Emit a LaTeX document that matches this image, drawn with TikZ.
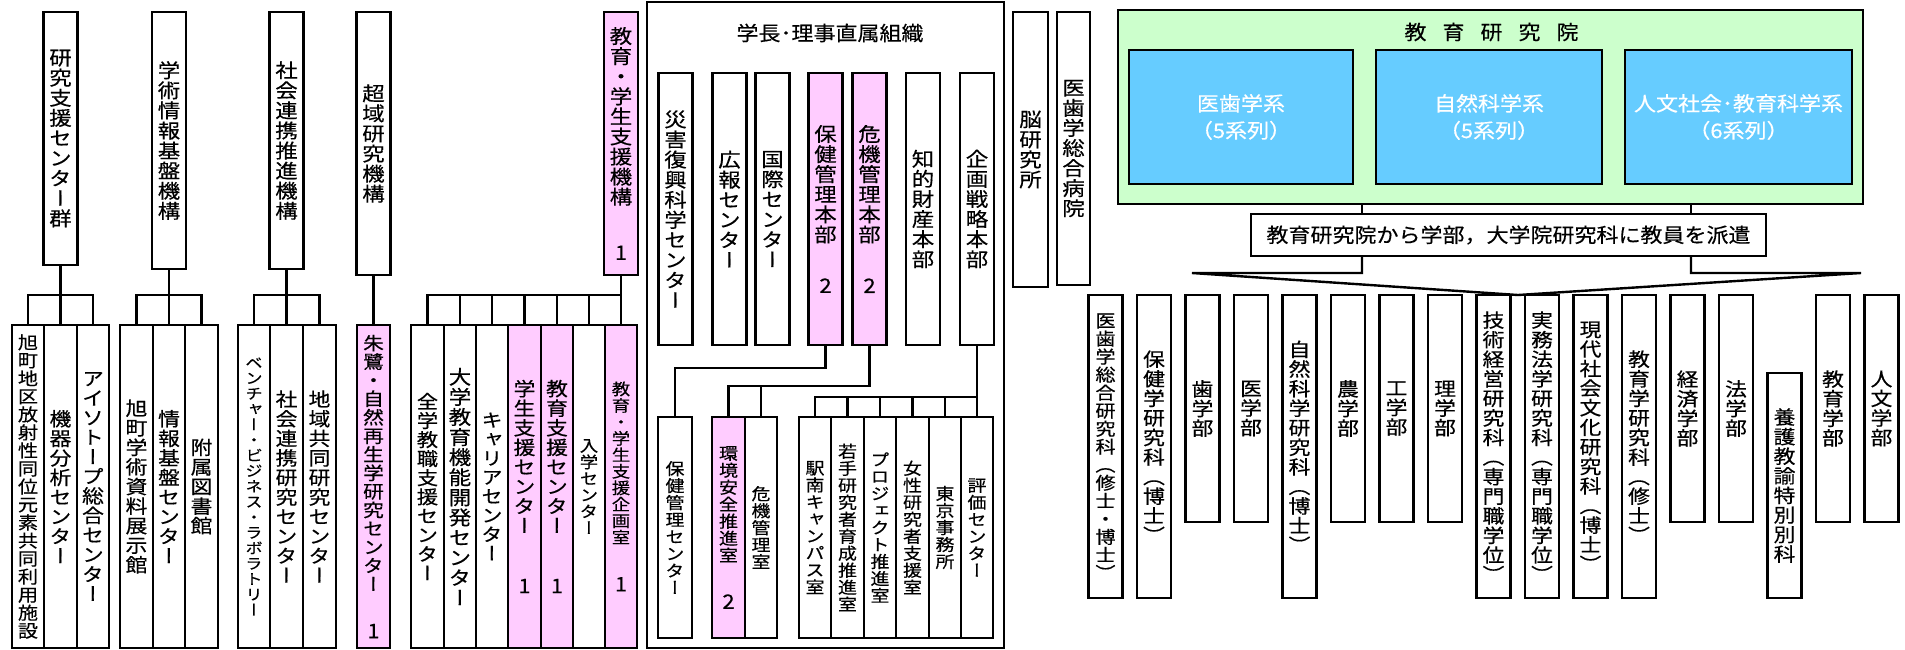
\documentclass[tikz,border=0pt]{standalone}
\usepackage{fontspec}
\setmainfont{Noto Sans CJK JP}[FakeStretch=1.1,FakeBold=0.4]
\newfontfamily\vjp{Noto Sans CJK JP}[RawFeature=+vert,FakeStretch=1.15,FakeBold=0.4]

\definecolor{pinkfill}{RGB}{255,204,255}
\definecolor{greenfill}{RGB}{204,255,204}
\definecolor{bluefill}{RGB}{102,204,255}

% vertical text: one character per line
\makeatletter
\let\vt@end\relax
\def\vt@loop#1{\ifx#1\vt@end\else\hbox to 24pt{\hss#1\hss}\expandafter\vt@loop\fi}
\newcommand\vtext[2][19.5]{\vbox{\vjp\fontsize{#1}{#1}\selectfont
  \baselineskip=1.03em\lineskiplimit=-100pt\lineskip=0pt
  \edef\vt@list{#2}\expandafter\vt@loop\vt@list\vt@end}}
\newcommand\vnum[4][19.5]{\vbox{\offinterlineskip\vtext[#1]{#2}\vskip#3pt
  \hbox to 24pt{\hss\fontsize{20}{20}\selectfont #4\hss}}}
\makeatother

\tikzset{
  cell/.style={draw, line width=2.4pt, fill=white, inner sep=0pt, outer sep=0pt, minimum width=32.5pt},
  pinkcell/.style={cell, fill=pinkfill},
  wire/.style={line width=2.4pt},
  low/.style={minimum height=323pt},
  mid/.style={minimum width=34pt, minimum height=272pt},
  sub/.style={minimum height=221pt},
  facL/.style={minimum height=303pt},
  facS/.style={minimum height=227pt},
  facY/.style={minimum height=225pt, yshift=-78pt},
  title/.style={font=\fontsize{20}{24}\selectfont},
  bluecell/.style={draw, line width=2.4pt, fill=bluefill, text=white, align=center,
    inner sep=0pt, minimum height=134pt, font=\fontsize{20}{27}\selectfont},
}

\begin{document}
\begin{tikzpicture}[x=1pt,y=-1pt]
\useasboundingbox (0,0) rectangle (1905,649);

% upper row
\node[cell, minimum width=34pt, minimum height=253pt] (kenkyu) at (60.5,138.5) {\vtext{研究支援センター群}};
\node[cell, minimum width=34pt, minimum height=257pt] (gakujutsu) at (169,140.5) {\vtext{学術情報基盤機構}};
\node[cell, minimum width=34pt, minimum height=257pt] (shakai) at (286.5,140.5) {\vtext{社会連携推進機構}};
\node[cell, minimum width=34pt, minimum height=263pt] (choiki) at (373.5,143.5) {\vtext{超域研究機構}};
\node[pinkcell, minimum width=34pt, minimum height=263pt] (kyoiku) at (621,143.5) {\vnum{教育・学生支援機構}{40}{1}};

% lower row
\node[cell, low] (asahi) at (28,486.5) {\vtext[17.5]{旭町地区放射性同位元素共同利用施設}};
\node[cell, low] (kiki) at (60.5,486.5) {\vtext[19]{機器分析センター}};
\node[cell, low] (isotope) at (93,486.5) {\vtext[19]{アイソトープ総合センター}};
\node[cell, low] (tenji) at (136.5,486.5) {\vtext[19]{旭町学術資料展示館}};
\node[cell, low] (johoc) at (169,486.5) {\vtext[19]{情報基盤センター}};
\node[cell, low] (tosho) at (201.5,486.5) {\vtext[19]{附属図書館}};
\node[cell, low] (venture) at (254,486.5) {\vtext[15]{ベンチャー・ビジネス・ラボラトリー}};
\node[cell, low] (renkei) at (286.5,486.5) {\vtext[19]{社会連携研究センター}};
\node[cell, low] (chiiki) at (319.5,486.5) {\vtext[19]{地域共同研究センター}};
\node[pinkcell, low] (toki) at (373.5,486.5) {\vnum[18]{朱鷺・自然再生学研究センター}{33}{1}};
\node[cell, low] (zengaku) at (427.5,486.5) {\vtext[18.5]{全学教職支援センター}};
\node[cell, low] (daigaku) at (460,486.5) {\vtext{大学教育機能開発センター}};
\node[cell, low] (career) at (492,486.5) {\vtext[18.5]{キャリアセンター}};
\node[pinkcell, low] (gakusei) at (524.5,486.5) {\vnum[19]{学生支援センター}{46}{1}};
\node[pinkcell, low] (kyoikus) at (557,486.5) {\vnum[19]{教育支援センター}{46}{1}};
\node[cell, low] (nyugaku) at (589,486.5) {\vtext[16]{入学センター}};
\node[pinkcell, low] (kikakushitsu) at (621,486.5) {\vnum[16]{教育・学生支援企画室}{33}{1}};

\coordinate (lbar) at (0,295);
\draw[wire] (kenkyu.south) -- (kenkyu |- lbar);
\draw[wire] (asahi.north) |- (isotope |- lbar) -- (isotope.north);
\draw[wire] (kiki.north) -- (kiki |- lbar);
\draw[wire] (gakujutsu.south) -- (gakujutsu |- lbar);
\draw[wire] (tenji.north) |- (tosho |- lbar) -- (tosho.north);
\draw[wire] (johoc.north) -- (johoc |- lbar);
\draw[wire] (shakai.south) -- (shakai |- lbar);
\draw[wire] (venture.north) |- (chiiki |- lbar) -- (chiiki.north);
\draw[wire] (renkei.north) -- (renkei |- lbar);
\draw[wire] (choiki.south) -- (toki.north);
\draw[wire] (kyoiku.south) -- (kikakushitsu.north);
\draw[wire] (zengaku.north) |- (kikakushitsu |- lbar);
\foreach \n in {daigaku,career,gakusei,kyoikus,nyugaku}
  \draw[wire] (\n.north) -- (\n |- lbar);

% president's office
\node[draw, line width=2pt, inner sep=0pt, minimum width=357pt, minimum height=646pt] (chokuzoku) at (825.5,325) {};
\node[title] (chokutitle) at (830,33) {学長･理事直属組織};

\node[cell, mid] (saigai) at (675.5,209) {\vtext{災害復興科学センター}};
\node[cell, mid] (koho) at (729.5,209) {\vtext{広報センター}};
\node[cell, mid] (kokusai) at (772.5,209) {\vtext{国際センター}};
\node[pinkcell, mid] (hokenhq) at (825.5,209) {\vnum{保健管理本部}{35}{2}};
\node[pinkcell, mid] (kikihq) at (869.5,209) {\vnum{危機管理本部}{35}{2}};
\node[cell, mid] (chiteki) at (923,209) {\vtext{知的財産本部}};
\node[cell, mid] (kikaku) at (977,209) {\vtext{企画戦略本部}};

\node[cell, sub, minimum width=34pt] (hokenc) at (675,527.5) {\vtext[16.5]{保健管理センター}};
\node[pinkcell, sub] (kankyo) at (728.5,527.5) {\vnum[16.5]{環境安全推進室}{32}{2}};
\node[cell, sub] (kikishitsu) at (761,527.5) {\vtext[16.5]{危機管理室}};
\node[cell, sub] (ekinan) at (815,527.5) {\vtext[16.5]{駅南キャンパス室}};
\node[cell, sub] (wakate) at (847.5,527.5) {\vtext[16.5]{若手研究者育成推進室}};
\node[cell, sub] (project) at (880,527.5) {\vtext[16.5]{プロジェクト推進室}};
\node[cell, sub] (josei) at (912.5,527.5) {\vtext[16.5]{女性研究者支援室}};
\node[cell, sub] (tokyo) at (945,527.5) {\vtext[16.5]{東京事務所}};
\node[cell, sub] (hyoka) at (977,527.5) {\vtext[16.5]{評価センター}};

\coordinate (hbar) at (0,368);
\coordinate (kbar) at (0,386);
\coordinate (pbar) at (0,397);
\draw[wire] (hokenhq.south) |- (hokenc |- hbar) -- (hokenc.north);
\draw[wire] (kikihq.south) |- (kankyo |- kbar) -- (kankyo.north);
\draw[wire] (kikishitsu.north) -- (kikishitsu |- kbar);
\draw[wire] (kikaku.south) -- (kikaku |- pbar);
\draw[wire] (ekinan.north) |- (hyoka |- pbar) -- (hyoka.north);
\foreach \n in {wakate,project,josei,tokyo}
  \draw[wire] (\n.north) -- (\n |- pbar);

\node[cell, minimum width=35pt, minimum height=275pt] (noken) at (1030.5,149.5) {\vtext{脳研究所}};
\node[cell, minimum width=33pt, minimum height=273pt] (byoin) at (1073.5,148.5) {\vtext{医歯学総合病院}};

% education and research institute
\node[draw, line width=2.4pt, fill=greenfill, inner sep=0pt, minimum width=745pt, minimum height=194pt] (kenkyuin) at (1490.5,107) {};
\node[title] (kenkyuintitle) at (1491.5,32) {教\hspace{16pt}育\hspace{16pt}研\hspace{16pt}究\hspace{16pt}院};
\node[bluecell, minimum width=224pt] (ishi) at (1241,117) {医歯学系\\（5系列）};
\node[bluecell, minimum width=226pt] (shizen) at (1489,117) {自然科学系\\（5系列）};
\node[bluecell, minimum width=227pt] (jinbun) at (1738.5,117) {人文社会･教育科学系\\（6系列）};

\node[draw, line width=2.4pt, inner sep=0pt, minimum width=515pt, minimum height=42pt, title] (haken) at (1508.5,235) {教育研究院から学部，大学院研究科に教員を派遣};

\coordinate (hl) at (1362,0);
\coordinate (hr) at (1691,0);
\coordinate (fl) at (1192,273);
\coordinate (fr) at (1861,273);
\coordinate (fv) at (1518,295);
\draw[wire] (kenkyuin.south -| hl) -- (haken.north -| hl);
\draw[wire] (kenkyuin.south -| hr) -- (haken.north -| hr);
\draw[wire] (haken.south -| hl) |- (fl) -- (fv) -- (fr) -| (haken.south -| hr);

% faculties and graduate schools
\foreach \txt/\knd/\sz [count=\i from 0] in {医歯学総合研究科（修士・博士）/L/17.5, 保健学研究科（博士）/L/19,
    歯学部/S/19, 医学部/S/19, 自然科学研究科（博士）/L/19, 農学部/S/19, 工学部/S/19, 理学部/S/19,
    技術経営研究科（専門職学位）/L/19, 実務法学研究科（専門職学位）/L/19, 現代社会文化研究科（博士）/L/19,
    教育学研究科（修士）/L/19, 経済学部/S/19, 法学部/S/19, 養護教諭特別別科/Y/19, 教育学部/S/19, 人文学部/S/19}
  \node[cell, minimum width=34pt, anchor=north, fac\knd] (f\i) at ({1105.5+48.5*\i},295) {\vtext[\sz]{\txt}};

\end{tikzpicture}
\end{document}
